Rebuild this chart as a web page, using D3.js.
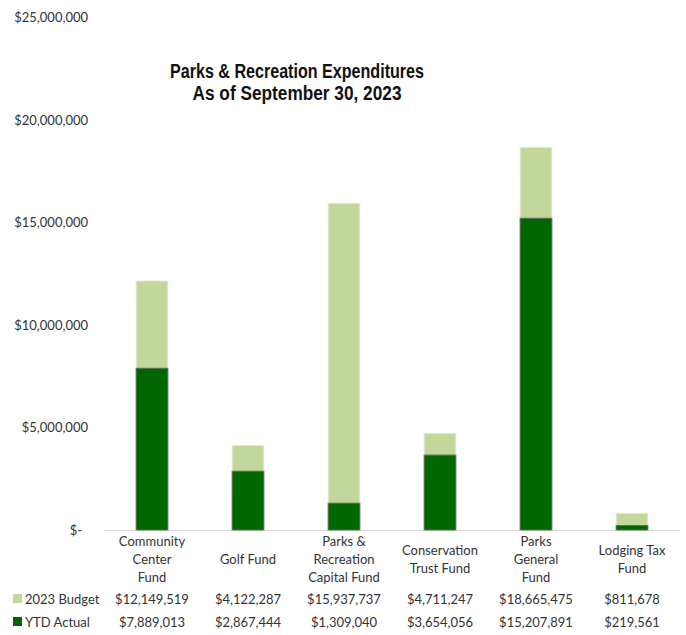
<!DOCTYPE html>
<html>
<head>
<meta charset="utf-8">
<script src="https://cdn.jsdelivr.net/npm/d3@7"></script>
<style>
  html, body { margin: 0; padding: 0; background: #fff; }
  svg { display: block; }
</style>
</head>
<body>
<svg id="chart" width="686" height="635"></svg>
<script>
const categories = [
  ["Community", "Center", "Fund"],
  ["Golf Fund"],
  ["Parks &", "Recreation", "Capital Fund"],
  ["Conservation", "Trust Fund"],
  ["Parks", "General", "Fund"],
  ["Lodging Tax", "Fund"]
];
const budget = [12149519, 4122287, 15937737, 4711247, 18665475, 811678];
const actual = [7889013, 2867444, 1309040, 3654056, 15207891, 219561];
const seriesNames = ["2023 Budget", "YTD Actual"];
const yTicks = [0, 5000000, 10000000, 15000000, 20000000, 25000000];
const titleLines = ["Parks & Recreation Expenditures", "As of September 30, 2023"];

const W = 686, H = 635;
const margin = { left: 104, right: 6, top: 17.5, bottom: 105 };
const svg = d3.select("#chart");
const font = "Lato, 'Open Sans', sans-serif";
const budgetColor = "#c4d79b", actualColor = "#006600";

const x = d3.scaleBand().domain(d3.range(categories.length))
  .range([margin.left, W - margin.right]).paddingInner(0.67).paddingOuter(0.335);
const y = d3.scaleLinear().domain([0, 25000000]).range([H - margin.bottom, margin.top]);

const money = d => d === 0 ? "$-" : "$" + d3.format(",")(d);

// y axis labels
const yAxis = d3.axisLeft(y).tickValues(yTicks).tickFormat(money).tickSize(0).tickPadding(0);
const yg = svg.append("g").attr("transform", `translate(${margin.left - 16},0)`).call(yAxis);
yg.select(".domain").remove();
yg.selectAll("text").attr("font-family", font).attr("font-size", 13).attr("fill", "#333")
  .attr("dx", d => d === 0 ? -6 : 0);

// baseline
svg.append("line").attr("x1", margin.left).attr("x2", W - margin.right)
  .attr("y1", y(0) + 0.5).attr("y2", y(0) + 0.5).attr("stroke", "#d9d9d9").attr("stroke-width", 1.2);

// budget bars
svg.append("g").selectAll("rect").data(budget).join("rect")
  .attr("x", (d, i) => x(i)).attr("width", x.bandwidth())
  .attr("y", d => y(d)).attr("height", d => y(0) - y(d))
  .attr("fill", budgetColor).attr("stroke", "#e4e8dc").attr("stroke-width", 1);

// actual bars
svg.append("g").selectAll("rect").data(actual).join("rect")
  .attr("x", (d, i) => x(i)).attr("width", x.bandwidth())
  .attr("y", d => y(d)).attr("height", d => y(0) - y(d))
  .attr("fill", actualColor).attr("stroke", "#5f6f5f").attr("stroke-width", 1);

// category labels
const lineH = 18;
categories.forEach((lines, i) => {
  const cx = x(i) + x.bandwidth() / 2;
  const startY = 559 - (lines.length - 1) * lineH / 2;
  const t = svg.append("text").attr("font-family", font).attr("font-size", 13)
    .attr("fill", "#333").attr("text-anchor", "middle").attr("dominant-baseline", "central");
  lines.forEach((ln, j) => {
    t.append("tspan").attr("x", cx).attr("y", startY + j * lineH).text(ln);
  });
});

// data table rows
const rows = [
  { name: seriesNames[0], values: budget, color: budgetColor, y: 599 },
  { name: seriesNames[1], values: actual, color: actualColor, y: 622 }
];
rows.forEach(r => {
  svg.append("rect").attr("x", 13).attr("y", r.y - 5).attr("width", 9).attr("height", 9)
    .attr("fill", r.color);
  svg.append("text").attr("x", 25).attr("y", r.y).attr("dominant-baseline", "central")
    .attr("font-family", font).attr("font-size", 13).attr("fill", "#333").text(r.name);
  svg.append("g").selectAll("text").data(r.values).join("text")
    .attr("x", (d, i) => x(i) + x.bandwidth() / 2).attr("y", r.y)
    .attr("text-anchor", "middle").attr("dominant-baseline", "central")
    .attr("font-family", font).attr("font-size", 13).attr("fill", "#333")
    .text(d => "$" + d3.format(",")(d));
});

// title
const titleFont = "'Liberation Sans Narrow', 'Arial Narrow', 'Liberation Sans', Arial, sans-serif";
const tw = [254, 209];
titleLines.forEach((ln, i) => {
  svg.append("text").attr("x", 297).attr("y", 78 + i * 22).attr("text-anchor", "middle")
    .attr("font-family", titleFont).attr("font-weight", "bold").attr("font-size", 20)
    .attr("fill", "#111").attr("textLength", tw[i]).attr("lengthAdjust", "spacingAndGlyphs").text(ln);
});
</script>
</body>
</html>
